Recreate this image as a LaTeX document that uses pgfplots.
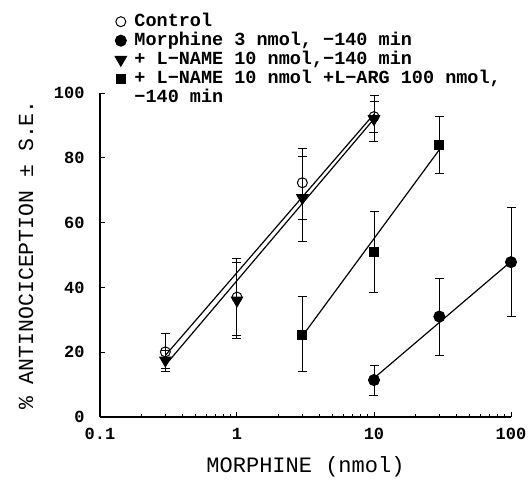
\documentclass[border=0pt]{standalone}
\usepackage{fontspec}
\setmainfont{Liberation Mono}
\usepackage{pgfplots}
\pgfplotsset{compat=1.18}

\begin{document}
\begin{tikzpicture}
% image frame: 1px = 1pt, axis origin at pixel (100,417)
\useasboundingbox (-100pt,-63pt) rectangle (431pt,417pt);
\begin{axis}[
  scale only axis, width=411pt, height=324pt,
  xmode=log, xmin=0.1, xmax=100, ymin=0, ymax=100,
  xtick={0.1,1,10,100}, xticklabels={0.1,1,10,100},
  ytick={0,20,40,60,80,100},
  axis x line*=bottom, axis y line*=left,
  axis line style={line width=1.6pt, -},
  tick align=inside,
  major tick length=5pt, minor tick length=3pt,
  every tick/.style={black, line width=1pt},
  /pgf/number format/assume math mode=true,
  ticklabel style={font=\fontsize{17}{19}\selectfont\bfseries},
  yticklabel style={xshift=-12pt},
  xticklabel style={yshift=-8pt},
  xlabel={MORPHINE (nmol)},
  ylabel={\% ANTINOCICEPTION ± S.E.},
  xlabel style={font=\fontsize{22}{24}\selectfont, at={(axis description cs:0.5,-0.154)}, anchor=center},
  ylabel style={font=\fontsize{21.5}{24}\selectfont, at={(axis description cs:-0.18,0.5)}, anchor=center},
  clip=false,
  legend image code/.code={\draw[mark repeat=2,mark phase=2,#1] plot coordinates {(0pt,0pt) (5pt,0pt) (10pt,0pt)};},
  legend cell align=left,
  legend style={at={(0.0365,1.25)}, anchor=north west, draw=none, fill=none,
    inner sep=0pt, column sep=7pt, row sep=0pt,
    font=\fontsize{18.5}{20}\selectfont\bfseries,
    nodes={inner sep=1pt, text height=13pt, text depth=4pt}},
  error bars/y dir=both, error bars/y explicit,
  error bars/error bar style={line width=1pt, black},
  error bars/error mark options={line width=1pt, mark size=4.5pt, rotate=90, black},
]
% regression lines
\addplot[black, line width=1.2pt, forget plot] coordinates {(0.3,19) (10,93.5)};
\addplot[black, line width=1.2pt, forget plot] coordinates {(0.3,16) (10,92)};
\addplot[black, line width=1.2pt, forget plot] coordinates {(3,25) (30,82.5)};
\addplot[black, line width=1.2pt, forget plot] coordinates {(10,12) (100,48)};

\addplot[only marks, mark=o, mark size=5pt, line width=1pt, black, mark options={fill=white}]
  coordinates {(0.3,20.1) += (0,5.7) -= (0,5.1)
               (1,37) += (0,11.8) -= (0,12.7)
               (3,72.3) += (0,8.2) -= (0,11.4)
               (10,92.7) += (0,4.8) -= (0,5.0)};
\addlegendentry{Control}
\addplot[only marks, mark=*, mark size=5.5pt, line width=1pt, black]
  coordinates {(10,11.4) += (0,4.6) -= (0,4.7)
               (30,31) += (0,11.6) -= (0,11.9)
               (100,47.8) += (0,16.9) -= (0,16.8)};
\addlegendentry{Morphine 3 nmol, −140 min}
\addplot[only marks, mark=triangle*, mark size=6.5pt, line width=1pt, black, mark options={rotate=180}]
  coordinates {(0.3,17.5) += (0,3) -= (0,3.6)
               (1,36) += (0,11.7) -= (0,10.7)
               (3,67.6) += (0,15.4) -= (0,13.4)
               (10,92) += (0,7.3) -= (0,6.9)};
\addlegendentry{+ L−NAME 10 nmol,−140 min}
\addplot[only marks, mark=square*, mark size=4.5pt, line width=1pt, black]
  coordinates {(3,25.3) += (0,11.9) -= (0,11.2)
               (10,50.9) += (0,12.6) -= (0,12.4)
               (30,83.9) += (0,9) -= (0,8.6)};
\addlegendentry{+ L−NAME 10 nmol +L−ARG 100 nmol,}
\addlegendimage{empty legend}
\addlegendentry{−140 min}
\end{axis}
\end{tikzpicture}
\end{document}
